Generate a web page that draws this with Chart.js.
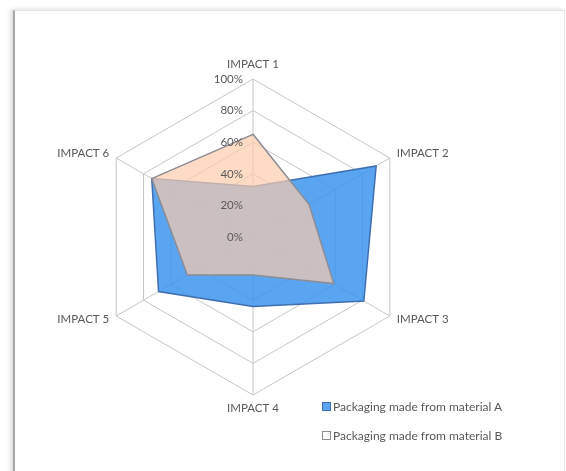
<!DOCTYPE html>
<html>
<head>
<meta charset="utf-8">
<script src="https://cdn.jsdelivr.net/npm/chart.js@4/dist/chart.umd.min.js"></script>
<style>
  html, body { margin: 0; padding: 0; background: #ffffff; }
  #wrap { position: relative; width: 566px; height: 471px; overflow: hidden; }
  #frame {
    position: absolute; left: 13px; top: 10px; width: 549px; height: 480px;
    border-left: 2px solid #a6a6a6; border-top: 1px solid #e2e2e2; border-right: 1px solid #e6e6e6;
    box-shadow: -3px -1px 4px rgba(0,0,0,0.12);
    background: #ffffff;
  }
  canvas { position: absolute; left: 0; top: 0; }
  .legend { position: absolute; left: 322px; font: 12px Lato, "Open Sans", sans-serif; color: #595959; white-space: nowrap; }
  .legend span.box { display: inline-block; width: 7px; height: 7px; margin-right: 2px; vertical-align: 0px; }
</style>
</head>
<body>
<div id="wrap">
  <div id="frame"></div>
  <canvas id="chart" width="566" height="471"></canvas>
  <div class="legend" id="legA" style="top:399px;"><span class="box" style="background:#5aa5f0;border:1px solid #3f6fb0;"></span>Packaging made from material A</div>
  <div class="legend" id="legB" style="top:428px;"><span class="box" style="background:#ffffff;border:1px solid #8c8c8c;"></span>Packaging made from material B</div>
</div>
<script>
// Categories and series values (share of maximum impact, %)
const categories = ['IMPACT 1', 'IMPACT 2', 'IMPACT 3', 'IMPACT 4', 'IMPACT 5', 'IMPACT 6'];
const materialA = [32, 90, 81, 44, 69, 74];
const materialB = [65, 41, 59, 24, 48, 74];
const tickValues = [0, 20, 40, 60, 80, 100];
const tickLabels = ['0%', '20%', '40%', '60%', '80%', '100%'];

const textColor = '#595959';
const labelFont = '11.5px Lato, "Open Sans", sans-serif';

// Axis category labels and percentage ticks, positioned from the radial scale
const radarLabels = {
  id: 'radarLabels',
  afterDraw(chart) {
    const scale = chart.scales.r;
    const ctx = chart.ctx;
    const r = scale.drawingArea;
    ctx.save();
    ctx.font = labelFont;
    ctx.fillStyle = textColor;
    ctx.textBaseline = 'middle';
    categories.forEach((label, i) => {
      if (i === 0) {
        const p = scale.getPointPosition(i, r + 15);
        ctx.textAlign = 'center';
        ctx.fillText(label, p.x, p.y);
      } else if (i === 3) {
        const p = scale.getPointPosition(i, r + 13);
        ctx.textAlign = 'center';
        ctx.fillText(label, p.x, p.y);
      } else {
        const p = scale.getPointPosition(i, r + 8);
        ctx.textAlign = (i < 3) ? 'left' : 'right';
        ctx.fillText(label, p.x, p.y - 1);
      }
    });
    ctx.textAlign = 'right';
    tickValues.forEach((v, i) => {
      const d = scale.getDistanceFromCenterForValue(v);
      ctx.fillText(tickLabels[i], scale.xCenter - 10, scale.yCenter - d);
    });
    ctx.restore();
  }
};

new Chart(document.getElementById('chart'), {
  type: 'radar',
  data: {
    labels: categories,
    datasets: [
      {
        label: 'Packaging made from material A',
        data: materialA,
        backgroundColor: 'rgba(61,149,238,0.85)',
        borderColor: '#3f6fb0',
        borderWidth: 1.5,
        pointRadius: 0,
        fill: true,
        order: 1
      },
      {
        label: 'Packaging made from material B',
        data: materialB,
        backgroundColor: 'rgba(252,204,172,0.70)',
        borderColor: '#8c8c94',
        borderWidth: 1.5,
        pointRadius: 0,
        fill: true,
        order: 0
      }
    ]
  },
  options: {
    responsive: false,
    animation: false,
    events: [],
    layout: { padding: { left: 95, right: 155, top: 79, bottom: 76 } },
    plugins: { legend: { display: false }, tooltip: { enabled: false } },
    elements: { line: { tension: 0 } },
    scales: {
      r: {
        min: 0,
        max: 100,
        ticks: { stepSize: 20, display: false },
        pointLabels: { display: false },
        grid: { color: '#c6c6c6', lineWidth: 1, circular: false },
        angleLines: { color: '#c6c6c6', lineWidth: 1 }
      }
    }
  },
  plugins: [radarLabels]
});
</script>
</body>
</html>
